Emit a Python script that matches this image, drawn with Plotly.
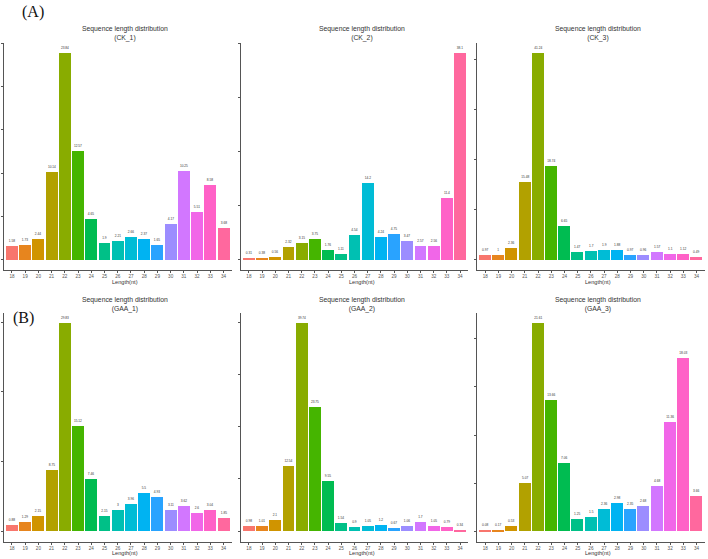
import math
import plotly.graph_objects as go

lengths = list(range(18, 35))
samples = ["CK_1", "CK_2", "CK_3", "GAA_1", "GAA_2", "GAA_3"]
ck1 = [1.58, 1.73, 2.44, 10.14, 23.84, 12.57, 4.65, 1.9, 2.21, 2.66, 2.37, 1.65, 4.17, 10.25, 5.51, 8.58, 3.68]
ck2 = [0.31, 0.38, 0.56, 2.32, 3.15, 3.75, 1.76, 1.11, 4.54, 14.2, 4.24, 4.75, 3.47, 2.57, 2.56, 11.4, 38.1]
ck3 = [0.97, 1.0, 2.36, 15.48, 41.24, 18.74, 6.65, 1.47, 1.7, 1.9, 1.88, 0.97, 0.96, 1.57, 1.1, 1.12, 0.49]
gaa1 = [0.88, 1.29, 2.15, 8.75, 29.83, 15.12, 7.46, 2.15, 3.0, 3.96, 5.5, 4.93, 3.11, 3.62, 2.6, 3.04, 1.85]
gaa2 = [0.98, 1.01, 2.1, 12.54, 39.74, 23.75, 9.55, 1.54, 0.9, 1.05, 1.2, 0.67, 1.06, 1.7, 1.05, 0.79, 0.34]
gaa3 = [0.08, 0.17, 0.53, 5.07, 21.61, 13.66, 7.06, 1.25, 1.5, 2.36, 2.98, 2.35, 2.68, 4.68, 11.36, 18.03, 3.66]
series = [ck1, ck2, ck3, gaa1, gaa2, gaa3]
ytick_steps = [5, 10, 10, 10, 10, 5]


def hcl_hex(h, c=100.0, l=65.0):
    xn, yn, zn = 95.047, 100.0, 108.883
    u = c * math.cos(math.radians(h))
    v = c * math.sin(math.radians(h))
    Y = yn * ((l + 16) / 116) ** 3 if l > 8 else yn * l / 903.3
    d = xn + 15 * yn + 3 * zn
    un, vn = 4 * xn / d, 9 * yn / d
    up = u / (13 * l) + un
    vp = v / (13 * l) + vn
    X = Y * 9 * up / (4 * vp)
    Z = Y * (12 - 3 * up - 20 * vp) / (4 * vp)
    X, Y, Z = X / 100, Y / 100, Z / 100
    r = 3.2404542 * X - 1.5371385 * Y - 0.4985314 * Z
    g = -0.9692660 * X + 1.8760108 * Y + 0.0415560 * Z
    b = 0.0556434 * X - 0.2040259 * Y + 1.0572252 * Z

    def gam(t):
        t = max(0.0, min(1.0, t))
        return 12.92 * t if t <= 0.0031308 else 1.055 * t ** (1 / 2.4) - 0.055

    return "#%02x%02x%02x" % tuple(int(round(gam(t) * 255)) for t in (r, g, b))


n = len(lengths)
colors = [hcl_hex(15 + 360.0 * i / n) for i in range(n)]

W, H = 708, 559
col_px = [(4, 231.5), (241, 468), (477.3, 704.5)]
row_px = [(43, 270), (313, 541.7)]

fig = go.Figure()
annotations = []
for k, (name, vals) in enumerate(zip(samples, series)):
    r, c = divmod(k, 3)
    ax = "" if k == 0 else str(k + 1)
    fig.add_trace(go.Bar(
        x=lengths, y=vals, width=0.9,
        marker=dict(color=colors, line=dict(width=0)),
        text=[f"{v:g}" for v in vals], textposition="outside",
        textfont=dict(size=3.2, color="#333333", family="Liberation Sans"),
        constraintext="none", cliponaxis=False, showlegend=False,
        xaxis="x" + ax, yaxis="y" + ax,
    ))
    x0, x1 = col_px[c]
    y0, y1 = row_px[r]
    m = max(vals)
    fig.layout["xaxis" + ax] = dict(
        domain=[x0 / W, x1 / W], anchor="y" + ax, range=[17.4, 34.6],
        tickvals=lengths, ticktext=[str(v) for v in lengths],
        showline=True, linecolor="#555555", linewidth=0.8,
        ticks="outside", ticklen=2, tickcolor="#555555", tickwidth=0.6,
        tickfont=dict(size=4.6, color="#555555", family="Liberation Sans"),
        showgrid=False, zeroline=False, fixedrange=True,
    )
    fig.layout["yaxis" + ax] = dict(
        domain=[1 - y1 / H, 1 - y0 / H], anchor="x" + ax, range=[-0.05 * m, 1.05 * m],
        dtick=ytick_steps[k], tick0=0, showticklabels=False,
        showline=True, linecolor="#555555", linewidth=0.8,
        ticks="outside", ticklen=2, tickcolor="#555555", tickwidth=0.6,
        showgrid=False, zeroline=False, fixedrange=True,
    )
    cx = (x0 + x1) / 2 + 7
    ty = 33 if r == 0 else 304
    annotations.append(dict(
        text=f"Sequence length distribution<br>({name})", x=cx / W, y=1 - ty / H,
        xref="paper", yref="paper", xanchor="center", yanchor="middle", showarrow=False,
        font=dict(size=6.8, color="#333333", family="Liberation Sans"),
    ))
    ly = 282 if r == 0 else 553
    annotations.append(dict(
        text="Length(nt)", x=cx / W, y=1 - ly / H,
        xref="paper", yref="paper", xanchor="center", yanchor="middle", showarrow=False,
        font=dict(size=5.6, color="#333333", family="Liberation Sans"),
    ))

annotations.append(dict(text="(A)", x=20 / W, y=1 - 12 / H, xref="paper", yref="paper",
                        xanchor="left", yanchor="middle", showarrow=False,
                        font=dict(size=16, color="#111111", family="Liberation Serif")))
annotations.append(dict(text="(B)", x=11 / W, y=1 - 318 / H, xref="paper", yref="paper",
                        xanchor="left", yanchor="middle", showarrow=False,
                        font=dict(size=16, color="#111111", family="Liberation Serif")))

fig.update_layout(
    width=W, height=H, margin=dict(l=0, r=0, t=0, b=0),
    paper_bgcolor="white", plot_bgcolor="white",
    annotations=annotations, bargap=0,
)
fig.write_html("out.html")
